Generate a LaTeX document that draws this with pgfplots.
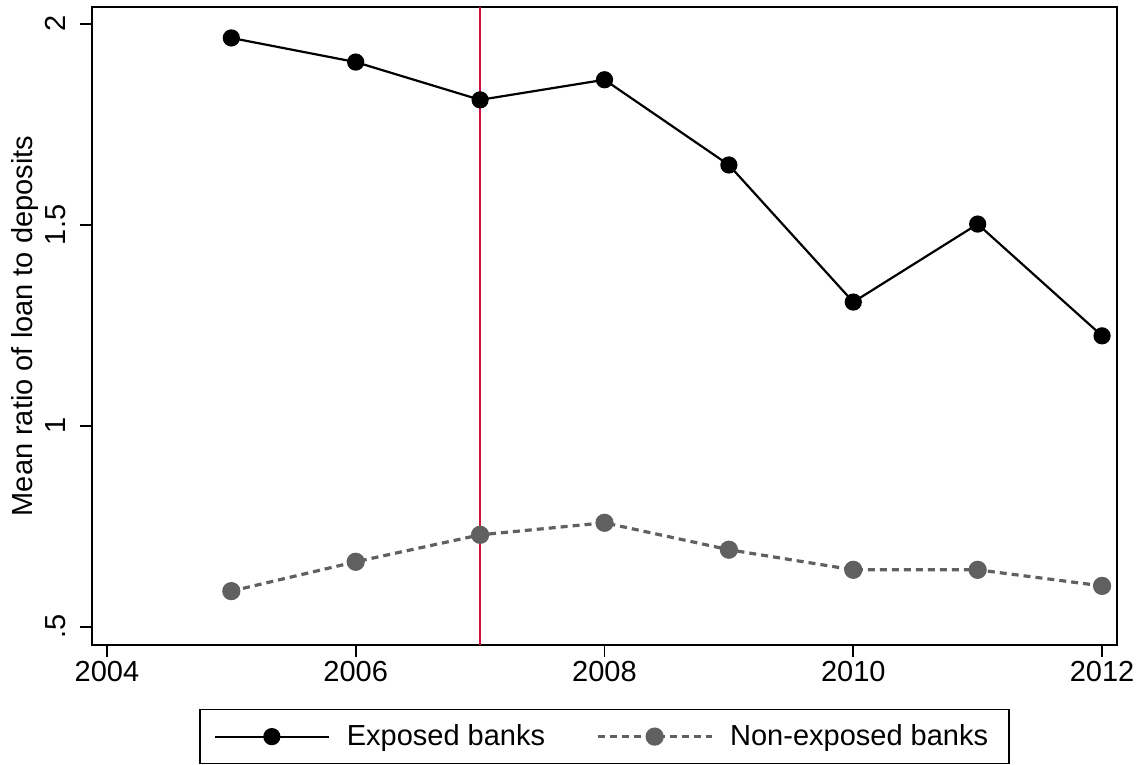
\documentclass[border=0pt]{standalone}
\usepackage{pgfplots}
\pgfplotsset{compat=1.18}
\usepackage{fontspec}
\setmainfont{Liberation Sans}
\definecolor{vred}{RGB}{204,18,60}
\definecolor{dgray}{RGB}{96,96,96}
\begin{document}
\begin{tikzpicture}
\begin{axis}[
  at={(0,0)}, anchor=south west,
  scale only axis, width=512.5pt, height=319pt,
  xmin=2003.88, xmax=2012.12, ymin=0.455, ymax=2.042,
  xtick={2004,2006,2008,2010,2012},
  ytick={0.5,1,1.5,2},
  yticklabels={.5,1,1.5,2},
  /pgf/number format/assume math mode=true,
  xticklabels={2004,2006,2008,2010,2012},
  tick align=outside, tick pos=left,
  major tick length=6pt,
  axis line style={line width=1.2pt},
  tick style={black, line width=0.8pt},
  every tick label/.append style={font=\fontsize{14.5}{17}\selectfont},
  yticklabel style={rotate=90, anchor=south, inner sep=0pt, yshift=7pt},
  xticklabel style={inner sep=2pt},
  ylabel={Mean ratio of loan to deposits},
  ylabel style={font=\fontsize{14.5}{17}\selectfont, at={(axis description cs:0,0.5)}, anchor=center, yshift=33.5pt},
  legend style={at={(0.5,-0.1)}, anchor=north, legend columns=2,
    font=\fontsize{14.5}{17}\selectfont, draw=black, line width=0.8pt,
    /tikz/every even column/.append style={column sep=22pt},
    /tikz/every odd column/.append style={column sep=5pt},
    inner xsep=7pt, inner ysep=4pt,
    nodes={inner sep=3.5pt}},
  legend image code/.code={
    \draw[mark repeat=2,mark phase=2,#1] plot coordinates {(0cm,0cm) (1cm,0cm) (2cm,0cm)};
  },
]
\addplot[black, line width=1.1pt, mark=*, mark size=3.75pt] coordinates {
(2005,1.965) (2006,1.905) (2007,1.811) (2008,1.861) (2009,1.649) (2010,1.308) (2011,1.502) (2012,1.224)};
\addlegendentry{Exposed banks}
\addplot[dgray, line width=1.6pt, dash pattern=on 3.5pt off 2.5pt, mark=*, mark size=3.75pt, mark options={solid, fill=dgray}] coordinates {
(2005,0.589) (2006,0.662) (2007,0.729) (2008,0.759) (2009,0.692) (2010,0.642) (2011,0.642) (2012,0.602)};
\addlegendentry{Non-exposed banks}
\draw[vred, line width=1.3pt] (axis cs:2007,0.455) -- (axis cs:2007,2.042);
\end{axis}
\pgfresetboundingbox
\path[use as bounding box] (-46pt,-60pt) rectangle (522pt,322.5pt);
\end{tikzpicture}
\end{document}
